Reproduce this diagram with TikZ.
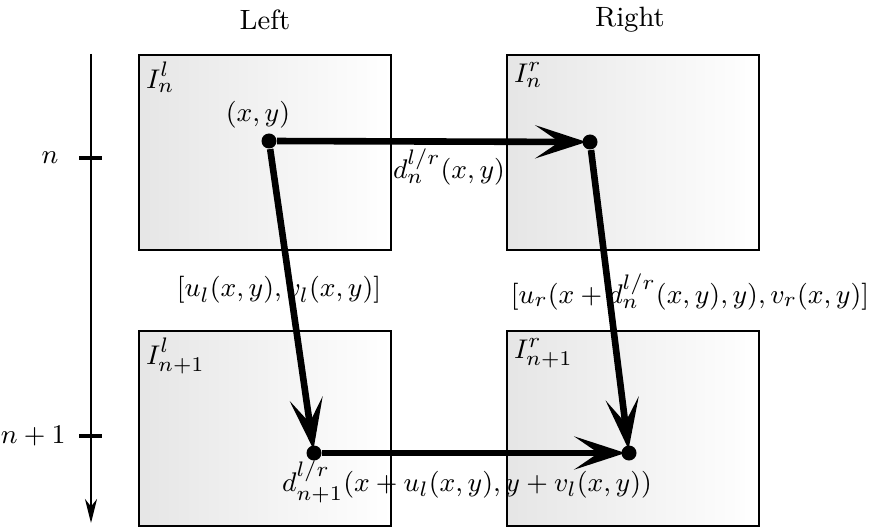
\documentclass[tikz,border=0pt]{standalone}
\usetikzlibrary{arrows.meta}
\begin{document}
\begin{tikzpicture}[x=0.3333pt,y=-0.3333pt,
  every node/.append style={font=\fontsize{9.3pt}{11pt}\selectfont},
  imgbox/.style={draw=black,line width=0.8pt,left color=black!10,right color=white,
    minimum width=84pt,minimum height=65pt,anchor=north west,inner sep=0pt},
  boxlabel/.style={anchor=north west,inner sep=2.5pt},
  dot/.style={circle,fill=black,inner sep=0pt,minimum size=5pt},
  bigarrow/.style={line width=2.2pt,-{Stealth[length=17pt,width=11pt,inset=8pt]},shorten >=-1.5pt},
  axis/.style={line width=0.8pt,-{Stealth[length=8pt,width=4pt,inset=2.5pt]}},
  tick/.style={line width=1.4pt}]
\useasboundingbox (0,0) rectangle (869,527);
% column titles
\node (tl) at (265,20) {Left};
\node (tr) at (630,20) {Right};
% boxes
\node[imgbox] (Bnl) at (138,54) {};
\node[imgbox] (Bnr) at (506,54) {};
\node[imgbox] (Bml) at (138,330) {};
\node[imgbox] (Bmr) at (506,330) {};
\node[boxlabel] (Lnl) at (Bnl.north west) {$I_n^l$};
\node[boxlabel] (Lnr) at (Bnr.north west) {$I_n^r$};
\node[boxlabel] (Lml) at (Bml.north west) {$I_{n+1}^l$};
\node[boxlabel] (Lmr) at (Bmr.north west) {$I_{n+1}^r$};
% axis
\coordinate (axtop) at (91,54);
\coordinate (axbot) at (91,523);
\draw[axis] (axtop) -- (axbot);
\coordinate (t1a) at (79,158); \coordinate (t1b) at (102,158);
\coordinate (t2a) at (79,436); \coordinate (t2b) at (102,436);
\draw[tick] (t1a) -- (t1b);
\draw[tick] (t2a) -- (t2b);
\node (ln) at (50,158) {$n$};
\node[anchor=east] (lm) at (76,436) {$n+1$};
% points
\node[dot] (p1) at (269,141) {};
\node[dot] (p2) at (590,142) {};
\node[dot] (p3) at (314,453) {};
\node[dot] (p4) at (629,453) {};
% arrows
\draw[bigarrow] (p1) -- (p2);
\draw[bigarrow] (p1) -- (p3);
\draw[bigarrow] (p2) -- (p4);
\draw[bigarrow] (p3) -- (p4);
% labels
\node (lxy) at (258,115) {$(x,y)$};
\node (ld) at (449,167) {$d_n^{l/r}(x,y)$};
\node (luv) at (279,290) {$[u_l(x,y),v_l(x,y)]$};
\node (lur) at (690,292) {$[u_r(x+d_n^{l/r}(x,y),y),v_r(x,y)]$};
\node (ld2) at (467,482) {$d_{n+1}^{l/r}(x+u_l(x,y),y+v_l(x,y))$};
\end{tikzpicture}
\end{document}
